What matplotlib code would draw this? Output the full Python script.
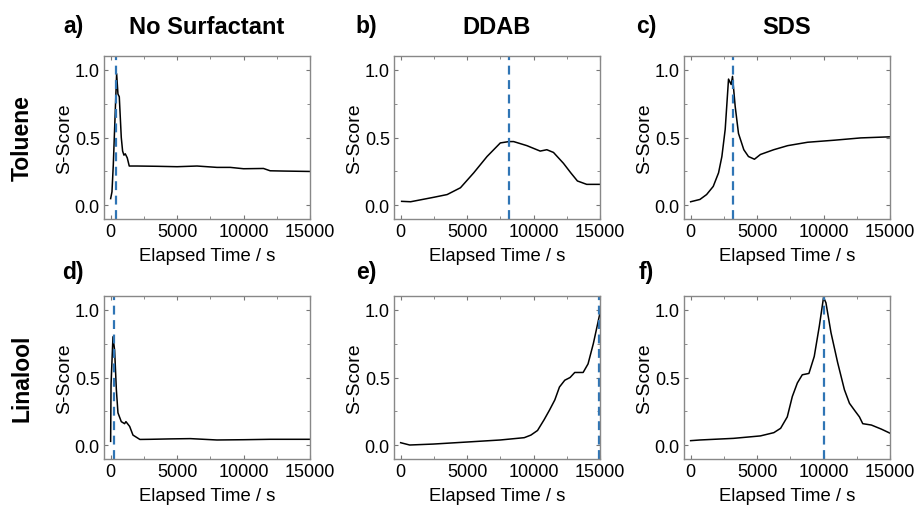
import matplotlib
matplotlib.use("Agg")
import matplotlib.pyplot as plt
from matplotlib.ticker import MultipleLocator

plt.rcParams['font.family'] = ['Liberation Sans', 'DejaVu Sans']

# ---- data ----
t_a = [0, 100, 200, 350, 450, 550, 650, 800, 900, 1000, 1100, 1250, 1400, 2000, 3500, 5000, 6500, 8000, 9000, 10000, 11500, 12000, 13000, 15000]
s_a = [0.05, 0.10, 0.30, 0.70, 0.97, 0.82, 0.80, 0.50, 0.40, 0.37, 0.38, 0.35, 0.29, 0.29, 0.288, 0.285, 0.29, 0.28, 0.28, 0.27, 0.272, 0.255, 0.253, 0.25]
v_a = 430

t_b = [75, 750, 2500, 3500, 4500, 5500, 6500, 7500, 8150, 8500, 9500, 10500, 11000, 11500, 12250, 12800, 13300, 14000, 15000]
s_b = [0.03, 0.027, 0.06, 0.08, 0.13, 0.24, 0.36, 0.46, 0.47, 0.47, 0.44, 0.40, 0.41, 0.39, 0.31, 0.24, 0.18, 0.155, 0.155]
v_b = 8150

t_c = [0, 700, 1200, 1700, 2100, 2350, 2600, 2850, 3050, 3150, 3350, 3600, 4000, 4350, 4800, 5250, 6250, 7300, 8800, 10800, 12800, 15000]
s_c = [0.027, 0.044, 0.08, 0.14, 0.24, 0.36, 0.56, 0.93, 0.89, 0.95, 0.73, 0.53, 0.41, 0.36, 0.34, 0.375, 0.41, 0.44, 0.465, 0.48, 0.497, 0.505]
v_c = 3200

t_d = [0, 30, 175, 300, 430, 550, 800, 1050, 1150, 1430, 1680, 2200, 3000, 4500, 6000, 8000, 10000, 12000, 15000]
s_d = [0.03, 0.45, 0.80, 0.70, 0.41, 0.24, 0.175, 0.16, 0.175, 0.14, 0.076, 0.044, 0.045, 0.048, 0.05, 0.04, 0.042, 0.045, 0.045]
v_d = 250

t_e = [0, 680, 2460, 5000, 7500, 9300, 9800, 10300, 10800, 11200, 11600, 11950, 12350, 12750, 13100, 13730, 14100, 14500, 15000]
s_e = [0.02, 0.003, 0.01, 0.025, 0.04, 0.057, 0.076, 0.11, 0.19, 0.26, 0.335, 0.43, 0.48, 0.50, 0.537, 0.537, 0.60, 0.75, 0.975]
v_e = 14950

t_f = [0, 700, 3230, 5250, 6260, 6770, 7270, 7650, 8030, 8400, 8900, 9300, 9680, 10000, 10180, 10560, 11060, 11570, 11950, 12320, 12700, 12950, 13600, 14350, 15000]
s_f = [0.035, 0.04, 0.052, 0.07, 0.094, 0.126, 0.21, 0.36, 0.46, 0.52, 0.53, 0.655, 0.877, 1.09, 1.05, 0.83, 0.61, 0.41, 0.31, 0.26, 0.21, 0.16, 0.15, 0.12, 0.09]
v_f = 10050

letters = ['a)', 'b)', 'c)', 'd)', 'e)', 'f)']
col_titles = ['No Surfactant', 'DDAB', 'SDS']
row_titles = ['Toluene', 'Linalool']
xticks = [0, 5000, 10000, 15000]
yticks = [0.0, 0.5, 1.0]

series = [(t_a, s_a, v_a), (t_b, s_b, v_b), (t_c, s_c, v_c),
          (t_d, s_d, v_d), (t_e, s_e, v_e), (t_f, s_f, v_f)]

W, H = 914, 510
fig = plt.figure(figsize=(W / 100, H / 100), dpi=100)

lefts = [104, 394, 684]
aw = 206
tops = [57, 297]
ah = 163
letter_x = [73, 366, 646]
letter_y = [27, 272]

for i, (t, s, v) in enumerate(series):
    r, c = divmod(i, 3)
    ax = fig.add_axes([lefts[c] / W, 1 - (tops[r] + ah) / H, aw / W, ah / H])
    ax.plot(t, s, color='black', lw=1.1)
    ax.axvline(v, color='#2f75b5', lw=1.6, ls=(0, (4, 2.5)))
    ax.set_xlim(-500, 15000)
    ax.set_ylim(-0.1, 1.1)
    ax.set_xticks(xticks)
    ax.set_yticks(yticks)
    ax.xaxis.set_minor_locator(MultipleLocator(2500))
    ax.yaxis.set_minor_locator(MultipleLocator(0.25))
    ax.tick_params(which='both', direction='in', top=True, right=True,
                   color='#777777', labelsize=13, pad=3)
    ax.tick_params(which='major', length=3)
    ax.tick_params(which='minor', length=2)
    for sp in ax.spines.values():
        sp.set_color('#888888')
        sp.set_linewidth(1.0)
    ax.set_xlabel('Elapsed Time / s', fontsize=13.3, labelpad=5)
    ax.set_ylabel('S-Score', fontsize=14, labelpad=1)
    fig.text(letter_x[c] / W, 1 - letter_y[r] / H, letters[i], fontsize=16.5,
             fontweight='bold', ha='center', va='center')
    if r == 0:
        fig.text((lefts[c] + aw / 2) / W, 1 - 27 / H, col_titles[c], fontsize=17,
                 fontweight='bold', ha='center', va='center')

for r, name in enumerate(row_titles):
    fig.text(22 / W, 1 - (tops[r] + ah / 2) / H, name, fontsize=16.5,
             fontweight='bold', ha='center', va='center', rotation=90)

fig.savefig('out.png', dpi=100)
